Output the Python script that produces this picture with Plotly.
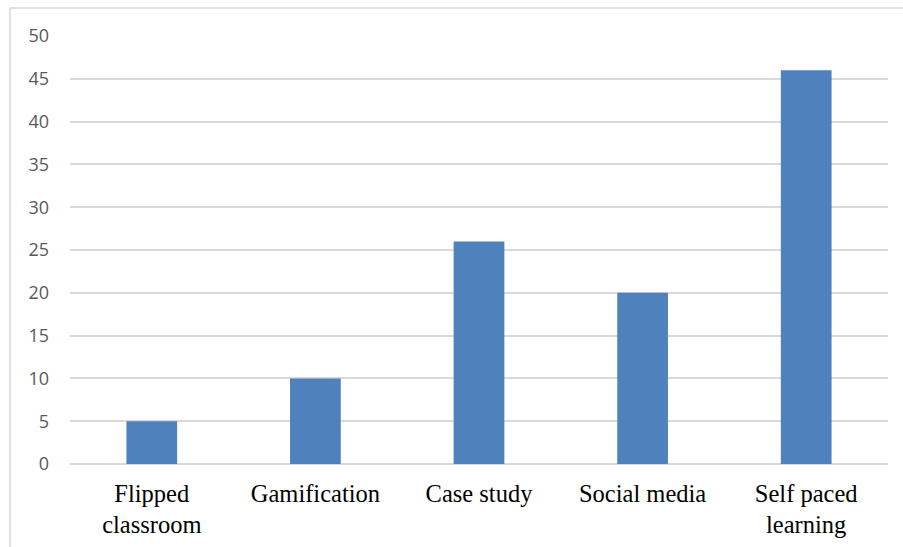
import plotly.graph_objects as go

categories = ["Flipped<br>classroom", "Gamification", "Case study", "Social media", "Self paced<br>learning"]
values = [5, 10, 26, 20, 46]
y_ticks = [0, 5, 10, 15, 20, 25, 30, 35, 40, 45, 50]

W, H = 903, 547
L, R, T, B = 70, 15, 36, 83
pw, ph = W - L - R, H - T - B

fig = go.Figure(go.Bar(x=categories, y=values, marker=dict(color="#4F81BD", line=dict(width=0))))

fig.update_layout(
    width=W, height=H,
    margin=dict(l=L, r=R, t=T, b=B, autoexpand=False),
    paper_bgcolor="white", plot_bgcolor="white",
    bargap=0.69,
    showlegend=False,
    shapes=[dict(type="rect", xref="paper", yref="paper",
                 x0=(10 - L) / pw, x1=1.2, y0=-0.5, y1=1 + (T - 8) / ph,
                 line=dict(color="#d9d9d9", width=1.5), layer="below")],
)
fig.update_yaxes(range=[0, 50], tickvals=y_ticks, showgrid=True, gridcolor="#d9d9d9", gridwidth=1.5,
                 zeroline=True, zerolinecolor="#d9d9d9", zerolinewidth=1.5,
                 tickfont=dict(family="Open Sans, Arial", size=18, color="#595959"),
                 ticks="", ticklabelstandoff=20, showline=False)
fig.update_xaxes(showgrid=False, showline=False, ticks="",
                 tickfont=dict(family="Liberation Serif, Times New Roman", size=24.5, color="black"),
                 ticklabelstandoff=12)

fig.write_html("out.html")
